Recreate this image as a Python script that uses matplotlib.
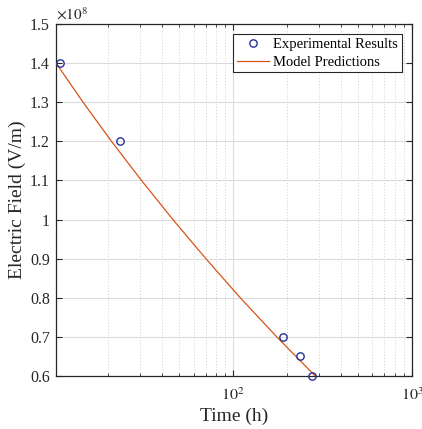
import math
import matplotlib
matplotlib.use("Agg")
import matplotlib.pyplot as plt
from matplotlib.ticker import FixedLocator, FuncFormatter, LogLocator, NullFormatter

# Data
exp_time = [10.8, 23.3, 190, 235, 275]
exp_field = [1.40e8, 1.20e8, 0.70e8, 0.65e8, 0.60e8]
model_time = [10.21, 14.45, 20.84, 30.67, 45.98, 70.3, 109.5, 175.2, 287.5]
model_field = [1.40e8, 1.30e8, 1.20e8, 1.10e8, 1.00e8, 0.90e8, 0.80e8, 0.70e8, 0.60e8]
y_ticks = [0.6, 0.7, 0.8, 0.9, 1.0, 1.1, 1.2, 1.3, 1.4, 1.5]
x_ticks = [100, 1000]

plt.rcParams['font.family'] = ['Liberation Serif', 'DejaVu Serif']
plt.rcParams['mathtext.fontset'] = 'stix'

fig = plt.figure(figsize=(4.22, 4.29), dpi=100)
ax = fig.add_axes([56/422, 1-376/429, 356/422, 352/429])

ax.plot(model_time, model_field, color='#D95319', lw=0.9, label='Model Predictions', zorder=3)
ax.plot(exp_time, exp_field, 'o', mfc='none', mec='#24329a', mew=1.0, ms=5.3,
        label='Experimental Results', zorder=4, clip_on=False)

ax.set_xscale('log')
ax.set_xlim(10.2, 1000)
ax.set_ylim(0.6e8, 1.5e8)

ax.xaxis.set_major_locator(FixedLocator(x_ticks))
ax.xaxis.set_major_formatter(FuncFormatter(lambda v, p: r'$10^{%d}$' % round(math.log10(v))))
ax.xaxis.set_minor_locator(LogLocator(base=10, subs=range(2, 10), numticks=20))
ax.xaxis.set_minor_formatter(NullFormatter())

ax.yaxis.set_major_locator(FixedLocator([v*1e8 for v in y_ticks]))
ax.yaxis.set_major_formatter(FuncFormatter(lambda v, p: ('%g' % round(v/1e8, 1))))
ax.text(0.0, 1.003, r'$\times 10^{8}$', transform=ax.transAxes, fontsize=11,
        ha='left', va='bottom', color='#262626')

ax.grid(True, which='major', color='#dcdcdc', lw=0.8, ls='-')
ax.grid(True, which='minor', axis='x', color='#d0d0d0', lw=0.7, ls=(0, (1, 2)))
ax.set_axisbelow(True)

ax.tick_params(which='both', direction='in', top=True, right=True, labelsize=11.5,
               color='#262626', labelcolor='#262626')
ax.tick_params(which='major', length=4, width=0.8)
ax.tick_params(axis='x', which='major', pad=8)
ax.tick_params(axis='y', which='major', pad=4.5)
ax.tick_params(which='minor', length=2.5, width=0.6)
for s in ax.spines.values():
    s.set_linewidth(0.9)
    s.set_color('#262626')

ax.set_xlabel('Time (h)', fontsize=14, labelpad=3, color='#262626')
ax.set_ylabel('Electric Field (V/m)', fontsize=14, labelpad=3, color='#262626')

h, l = ax.get_legend_handles_labels()
leg = ax.legend([h[1], h[0]], [l[1], l[0]], loc='upper right', fontsize=10.5,
                fancybox=False, edgecolor='#262626', framealpha=1,
                borderpad=0.25, handlelength=2.2, handletextpad=0.3,
                labelspacing=0.3, borderaxespad=0.7)
leg.get_frame().set_linewidth(0.8)

fig.savefig('out.png', dpi=100)
